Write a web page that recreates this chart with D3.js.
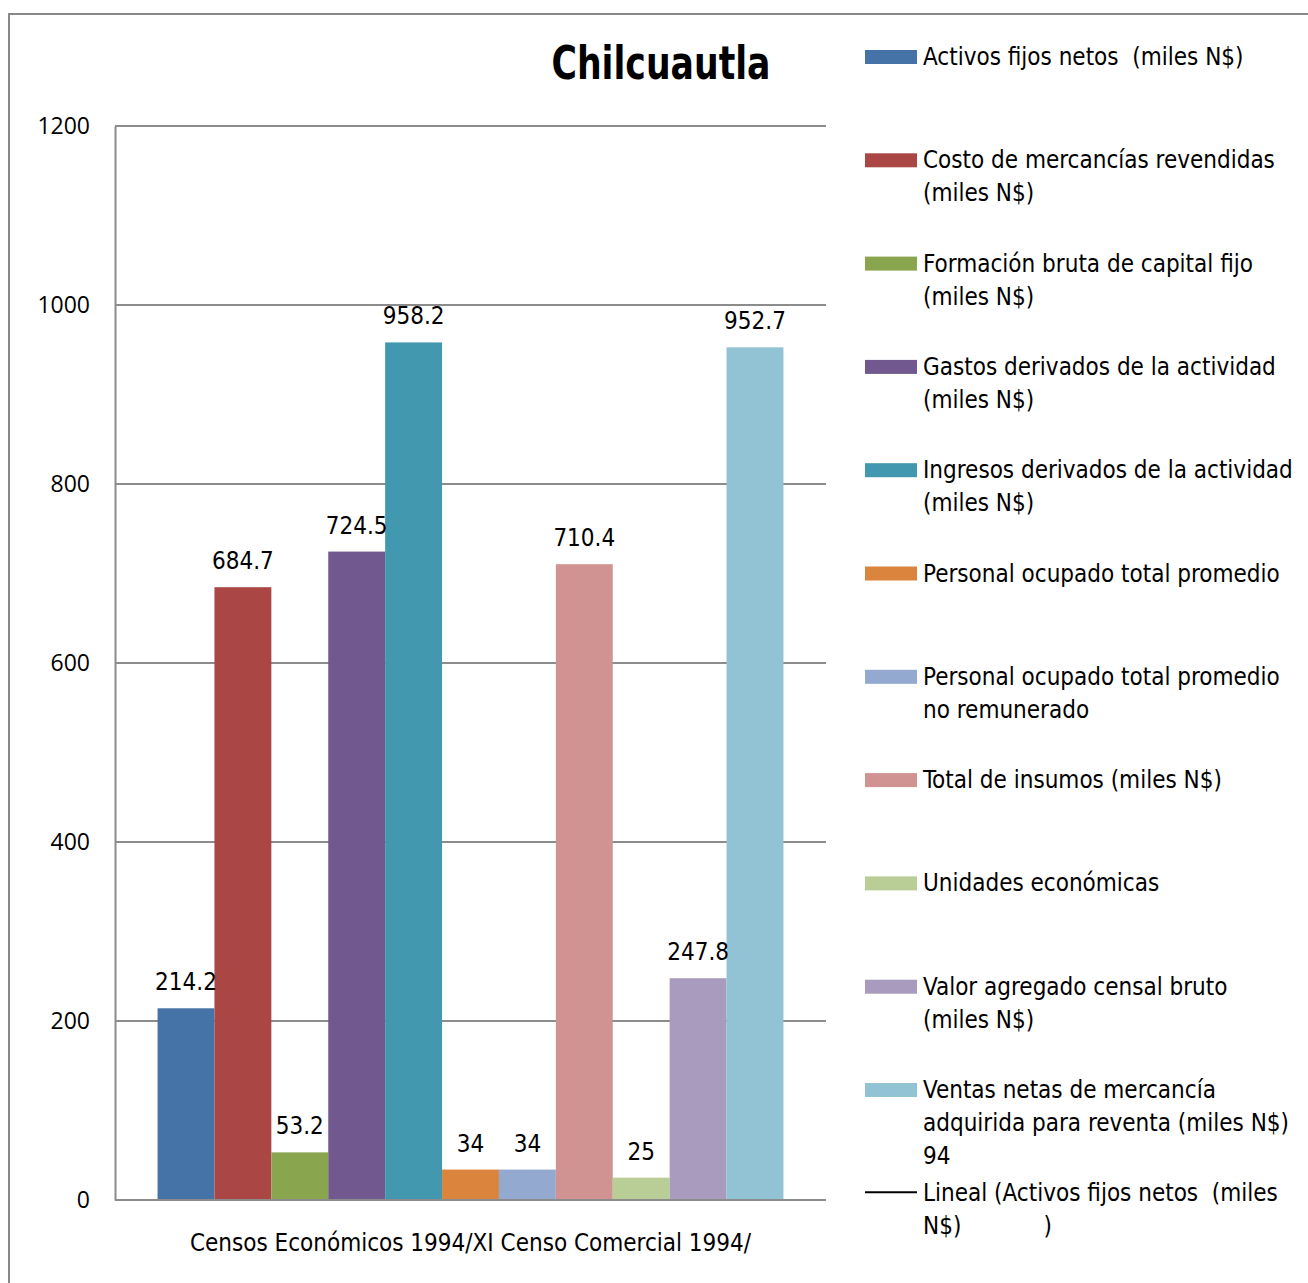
<!DOCTYPE html>
<html>
<head>
<meta charset="utf-8">
<script src="https://cdnjs.cloudflare.com/ajax/libs/d3/7.8.5/d3.min.js"></script>
<style>
  body { margin: 0; background: #fff; }
  .narrow { font-family: "Liberation Sans Narrow", "Arial Narrow", "DejaVu Sans Condensed", sans-serif; white-space: pre; }
  .tick-label { font-family: "Open Sans", sans-serif; }
</style>
</head>
<body>
<div id="chart"></div>
<script>
var categories = ["Censos Económicos 1994/XI Censo Comercial 1994/"];

var seriesNames = [
  "Activos fijos netos  (miles N$)",
  "Costo de mercancías revendidas (miles N$)",
  "Formación bruta de capital fijo (miles N$)",
  "Gastos derivados de la actividad (miles N$)",
  "Ingresos derivados de la actividad (miles N$)",
  "Personal ocupado total promedio",
  "Personal ocupado total promedio no remunerado",
  "Total de insumos (miles N$)",
  "Unidades económicas",
  "Valor agregado censal bruto (miles N$)",
  "Ventas netas de mercancía adquirida para reventa (miles N$) 94"
];

var seriesValues = [214.2, 684.7, 53.2, 724.5, 958.2, 34, 34, 710.4, 25, 247.8, 952.7];

var seriesColors = ["#4572A7", "#AA4643", "#89A54E", "#71588F", "#4198AF", "#DB843D",
                    "#93A9CF", "#D19392", "#B9CD96", "#A99BBD", "#92C3D4"];

// legend text, split into lines like the original
var legendLines = [
  ["Activos fijos netos  (miles N$)"],
  ["Costo de mercancías revendidas", "(miles N$)"],
  ["Formación bruta de capital fijo", "(miles N$)"],
  ["Gastos derivados de la actividad", "(miles N$)"],
  ["Ingresos derivados de la actividad", "(miles N$)"],
  ["Personal ocupado total promedio"],
  ["Personal ocupado total promedio", "no remunerado"],
  ["Total de insumos (miles N$)"],
  ["Unidades económicas"],
  ["Valor agregado censal bruto", "(miles N$)"],
  ["Ventas netas de mercancía", "adquirida para reventa (miles N$)", "94"],
  ["Lineal (Activos fijos netos  (miles", "N$)            )"]
];

var yTicks = [0, 200, 400, 600, 800, 1000, 1200];

var width = 1308, height = 1283;
var margin = {top: 126, right: 482, bottom: 83, left: 115};

var svg = d3.select("#chart").append("svg")
    .attr("width", width)
    .attr("height", height);

// outer chart border
svg.append("rect")
    .attr("x", 9).attr("y", 14)
    .attr("width", width + 20).attr("height", height + 20)
    .attr("fill", "none")
    .attr("stroke", "#898989")
    .attr("stroke-width", 2);

var y = d3.scaleLinear()
    .domain([0, 1200])
    .range([height - margin.bottom, margin.top]);

var x0 = d3.scaleBand()
    .domain(categories)
    .range([margin.left, width - margin.right])
    .paddingInner(0)
    .paddingOuter(0.068);

var x1 = d3.scaleBand()
    .domain(seriesNames)
    .range([0, x0.bandwidth()])
    .padding(0);

// gridlines
svg.append("g")
  .selectAll("line")
  .data(yTicks.filter(function(d) { return d > 0; }))
  .join("line")
    .attr("x1", margin.left)
    .attr("x2", width - margin.right)
    .attr("y1", function(d) { return y(d); })
    .attr("y2", function(d) { return y(d); })
    .attr("stroke", "#8c8c8c")
    .attr("stroke-width", 2);

// y axis
var yAxis = svg.append("g")
    .attr("transform", "translate(" + margin.left + ",0)")
    .call(d3.axisLeft(y).tickValues(yTicks).tickFormat(d3.format("d")).tickSize(0).tickPadding(25));
yAxis.select(".domain").attr("stroke", "#8c8c8c").attr("stroke-width", 2);
yAxis.selectAll("text")
    .attr("class", "tick-label")
    .style("font-size", "23px")
    .attr("fill", "#000");

// bars
var group = svg.append("g")
  .selectAll("g")
  .data(categories)
  .join("g")
    .attr("transform", function(d) { return "translate(" + x0(d) + ",0)"; });

var barData = seriesNames.map(function(n, i) {
  return {name: n, value: seriesValues[i], color: seriesColors[i]};
});

group.selectAll("rect")
  .data(barData)
  .join("rect")
    .attr("x", function(d) { return x1(d.name); })
    .attr("width", x1.bandwidth())
    .attr("y", function(d) { return y(d.value); })
    .attr("height", function(d) { return y(0) - y(d.value); })
    .attr("fill", function(d) { return d.color; });

group.selectAll("text.value")
  .data(barData)
  .join("text")
    .attr("class", "value narrow")
    .attr("x", function(d) { return x1(d.name) + x1.bandwidth() / 2; })
    .attr("y", function(d) { return y(d.value) - 18; })
    .attr("text-anchor", "middle")
    .style("font-size", "24px")
    .text(function(d) { return d.value; });

// x axis baseline
var xAxis = svg.append("g")
    .attr("transform", "translate(0," + y(0) + ")")
    .call(d3.axisBottom(x0).tickSize(0).tickPadding(34));
xAxis.select(".domain").attr("stroke", "#8c8c8c").attr("stroke-width", 2)
    .attr("d", "M" + margin.left + ",0H" + (width - margin.right));
xAxis.selectAll("text")
    .attr("class", "narrow")
    .style("font-size", "24px")
    .attr("fill", "#000");

// title
svg.append("text")
    .attr("class", "narrow")
    .attr("x", 661)
    .attr("y", 79)
    .attr("text-anchor", "middle")
    .attr("textLength", 219)
    .attr("lengthAdjust", "spacingAndGlyphs")
    .style("font-size", "46px")
    .style("font-weight", "bold")
    .text("Chilcuautla");

// legend
var legend = svg.append("g")
  .selectAll("g")
  .data(legendLines)
  .join("g")
    .attr("transform", function(d, i) { return "translate(865," + (56 + i * 103.3) + ")"; });

legend.each(function(d, i) {
  var g = d3.select(this);
  if (i < seriesColors.length) {
    g.append("rect")
      .attr("x", 0).attr("y", -6)
      .attr("width", 52).attr("height", 14)
      .attr("fill", seriesColors[i]);
  } else {
    g.append("line")
      .attr("x1", 0).attr("x2", 52)
      .attr("y1", 0).attr("y2", 0)
      .attr("stroke", "#000")
      .attr("stroke-width", 2);
  }
  g.append("text")
    .attr("class", "narrow")
    .attr("x", 58)
    .attr("y", 9)
    .style("font-size", "24px")
    .selectAll("tspan")
    .data(d)
    .join("tspan")
      .attr("x", 58)
      .attr("dy", function(t, j) { return j === 0 ? 0 : 33; })
      .text(function(t) { return t; });
});
</script>
</body>
</html>
